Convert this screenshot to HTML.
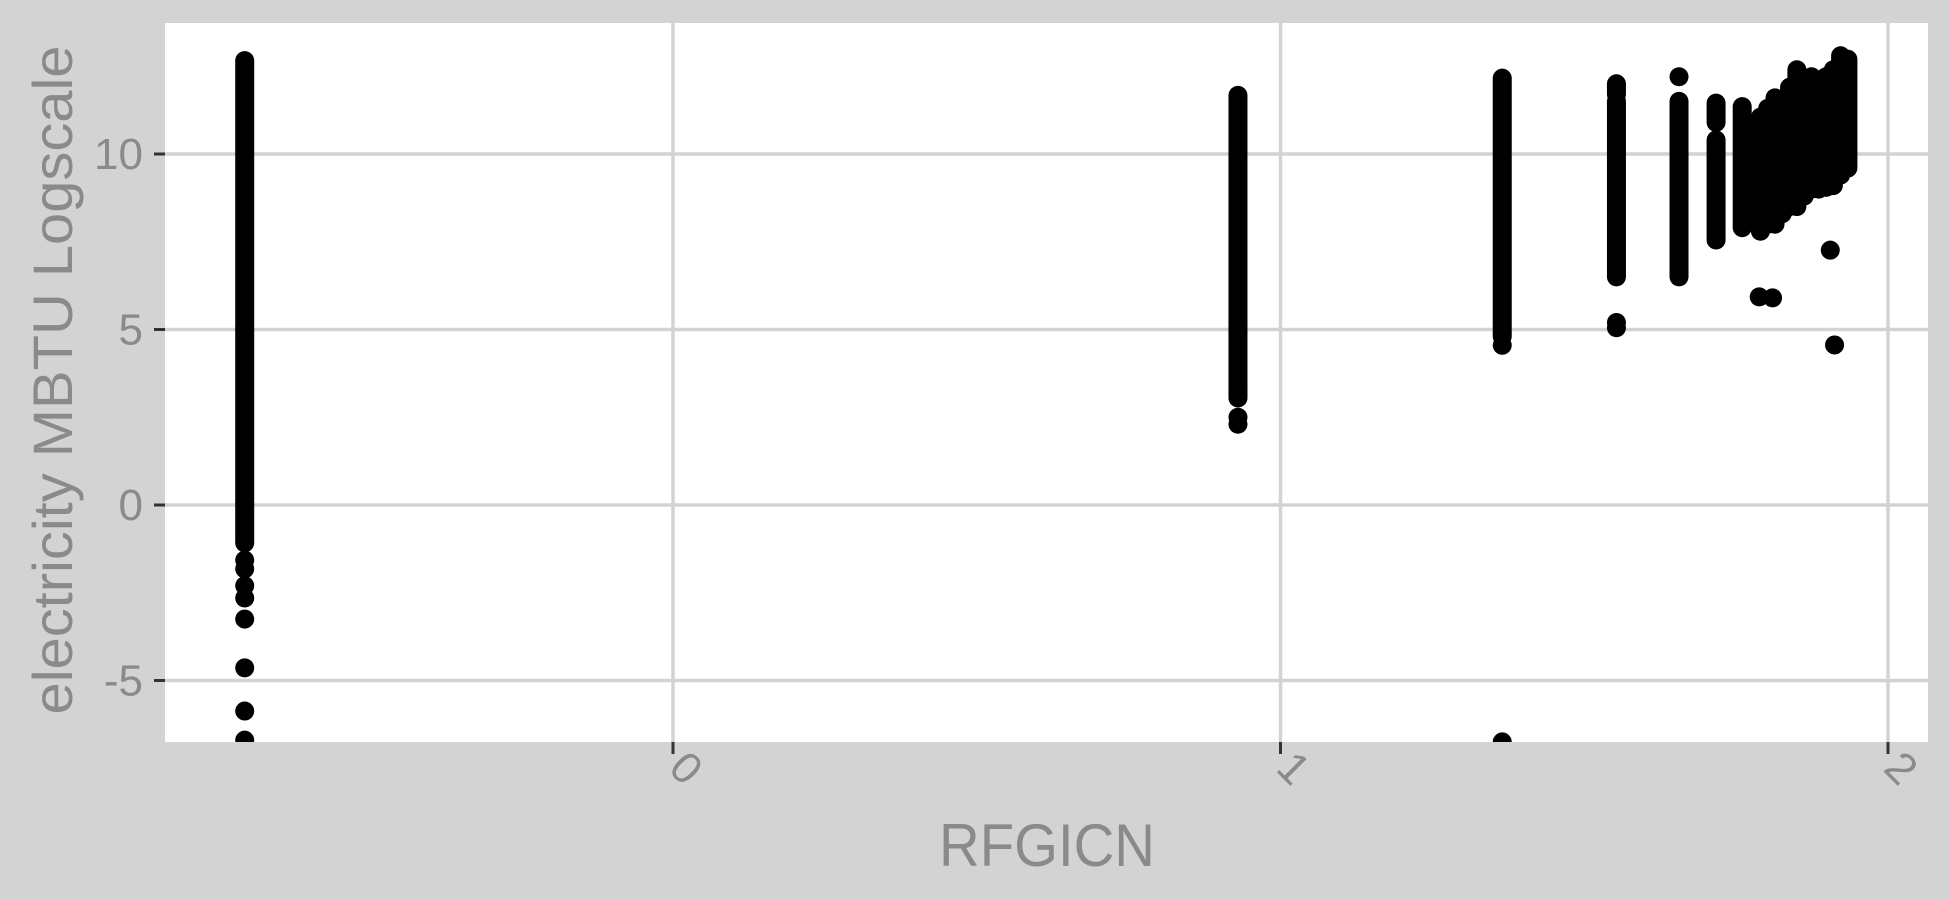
<!DOCTYPE html>
<html><head><meta charset="utf-8"><style>
html,body{margin:0;padding:0;background:#d3d3d3;}
svg{display:block;font-family:"Liberation Sans",sans-serif;}
</style></head><body>
<svg width="1950" height="900" viewBox="0 0 1950 900">
<rect x="0" y="0" width="1950" height="900" fill="#d3d3d3"/>
<rect x="165" y="23" width="1763" height="719" fill="#ffffff"/>
<g id="grid"></g>
<g id="marks"></g>
<rect x="0" y="742" width="1950" height="158" fill="#d3d3d3"/>
<rect x="1928" y="0" width="22" height="900" fill="#d3d3d3"/>
<g id="axes"></g>
<text x="1047" y="866" font-size="60" fill="#8a8a8a" text-anchor="middle" textLength="216" lengthAdjust="spacingAndGlyphs">RFGICN</text>
<text transform="translate(72,380) rotate(-90)" font-size="56" fill="#8a8a8a" text-anchor="middle" textLength="669" lengthAdjust="spacingAndGlyphs">electricity MBTU Logscale</text>
</svg>
<script>
// data
const xTicks = [0, 1, 2];
const xTickLabels = ["0", "1", "2"];
const yTicks = [-5, 0, 5, 10];
const yTickLabels = ["-5", "0", "5", "10"];
// dense strips: x position, low value, high value
const stripX  = [-0.705, 0.93, 1.365, 1.553, 1.553, 1.656, 1.717, 1.717, 1.76];
const stripLo = [-1.08, 3.05, 4.8, 6.5, 11.7, 6.5, 7.55, 10.9, 7.9];
const stripHi = [12.66, 11.67, 12.16, 11.5, 12.0, 11.5, 10.4, 11.45, 11.35];
// cluster columns near x 1.78-1.94
const clusterX  = [1.778, 1.79, 1.802, 1.814, 1.826, 1.838, 1.85, 1.862, 1.874, 1.886, 1.898, 1.91, 1.922, 1.934];
const clusterLo = [8.2, 7.8, 8.0, 8.0, 8.3, 8.5, 8.5, 8.8, 9.0, 9.0, 9.05, 9.1, 9.4, 9.6];
const clusterHi = [10.8, 11.05, 11.3, 11.6, 11.5, 11.9, 12.4, 12.0, 12.2, 12.1, 12.2, 12.4, 12.8, 12.7];
// individual points
const ptX = [-0.705,-0.705,-0.705,-0.705,-0.705,-0.705,-0.705,-0.705, 0.93,0.93,0.93, 1.365,1.365, 1.553,1.553, 1.656, 1.788,1.81, 1.905,1.912];
const ptY = [-1.57,-1.82,-2.3,-2.65,-3.25,-4.64,-5.87,-6.7, 2.3,2.5,3.2, 4.55,-6.75, 5.2,5.05, 12.2, 5.93,5.9, 7.26,4.56];

const X0 = 673, XS = 607.5, Y0 = 505, YS = 35.1, R = 9.5;
const xs = v => X0 + v * XS;
const ys = v => Y0 - v * YS;
const NS = "http://www.w3.org/2000/svg";
const grid = document.getElementById('grid');
const marks = document.getElementById('marks');
const axes = document.getElementById('axes');
function mk(tag, attrs, parent){const e=document.createElementNS(NS,tag);for(const k in attrs)e.setAttribute(k,attrs[k]);parent.appendChild(e);return e;}

yTicks.forEach((t,i)=>{
  const g = mk('line',{x1:165,x2:1928,y1:ys(t),y2:ys(t),stroke:'#d3d3d3','stroke-width':3.5},grid);
  
  
  const tk = mk('line',{x1:154,x2:165,y1:ys(t),y2:ys(t),stroke:'#333','stroke-width':3},axes);
  
  
  const tx = mk('text',{x:143,y:ys(t)+15,'font-size':44,fill:'#8a8a8a','text-anchor':'end'},axes);
  tx.textContent = yTickLabels[i];
  
  
});
xTicks.forEach((t,i)=>{
  const g = mk('line',{x1:xs(t),x2:xs(t),y1:23,y2:742,stroke:'#d3d3d3','stroke-width':3.5},grid);
  
  
  const tk = mk('line',{x1:xs(t),x2:xs(t),y1:742,y2:754,stroke:'#333','stroke-width':3},axes);
  
  
  const tx = mk('text',{transform:`translate(${xs(t)-6},${770}) rotate(45)`,'font-size':44,fill:'#8a8a8a','text-anchor':'start'},axes);
  tx.textContent = xTickLabels[i];
  
  
});
function strip(x,lo,hi,name){
  const l = mk('line',{x1:xs(x),x2:xs(x),y1:ys(hi),y2:ys(lo),stroke:'#000','stroke-width':2*R,'stroke-linecap':'round'},marks);
  
  
}
stripX.forEach((x,i)=>strip(x,stripLo[i],stripHi[i],'point-strip'));
clusterX.forEach((x,i)=>strip(x,clusterLo[i],clusterHi[i],'point-cluster'));
ptX.forEach((x,i)=>{
  const c = mk('circle',{cx:xs(x),cy:ys(ptY[i]),r:R,fill:'#000'},marks);
  
  
});
</script>
</body></html>
